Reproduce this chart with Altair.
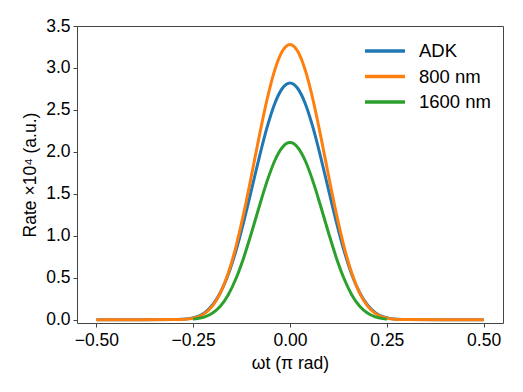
import altair as alt
import pandas as pd

# x positions (units of pi rad)
x_full = [-0.50, -0.40, -0.30, -0.28, -0.26, -0.24, -0.22, -0.20, -0.18, -0.16,
          -0.14, -0.12, -0.10, -0.08, -0.06, -0.04, -0.02, 0.00,
          0.02, 0.04, 0.06, 0.08, 0.10, 0.12, 0.14, 0.16, 0.18, 0.20,
          0.22, 0.24, 0.26, 0.28, 0.30, 0.40, 0.50]
adk = [0.0, 0.0, 0.0007, 0.0034, 0.012, 0.035, 0.084, 0.174, 0.320, 0.533,
       0.815, 1.157, 1.537, 1.923, 2.279, 2.568, 2.755, 2.820,
       2.755, 2.568, 2.279, 1.923, 1.537, 1.157, 0.815, 0.533, 0.320, 0.174,
       0.084, 0.035, 0.012, 0.0034, 0.0007, 0.0, 0.0]
nm800 = [0.0, 0.0, 0.0005, 0.0024, 0.009, 0.029, 0.075, 0.164, 0.316, 0.546,
         0.862, 1.257, 1.706, 2.172, 2.609, 2.965, 3.199, 3.280,
         3.199, 2.965, 2.609, 2.172, 1.706, 1.257, 0.862, 0.546, 0.316, 0.164,
         0.075, 0.029, 0.009, 0.0024, 0.0005, 0.0, 0.0]
x_green = [-0.25, -0.24, -0.22, -0.20, -0.18, -0.16, -0.14, -0.12, -0.10, -0.08,
           -0.06, -0.04, -0.02, 0.00, 0.02, 0.04, 0.06, 0.08, 0.10, 0.12,
           0.14, 0.16, 0.18, 0.20, 0.22, 0.24, 0.25]
nm1600 = [0.006, 0.012, 0.033, 0.078, 0.160, 0.292, 0.484, 0.733, 1.027, 1.340,
          1.639, 1.888, 2.052, 2.110, 2.052, 1.888, 1.639, 1.340, 1.027, 0.733,
          0.484, 0.292, 0.160, 0.078, 0.033, 0.012, 0.006]

series = ["ADK", "800 nm", "1600 nm"]
colors = ["#1f77b4", "#ff7f0e", "#2ca02c"]

df_adk = pd.DataFrame({"x": x_full, "y": adk, "s": "ADK"})
df_800 = pd.DataFrame({"x": x_full, "y": nm800, "s": "800 nm"})
df_1600 = pd.DataFrame({"x": x_green, "y": nm1600, "s": "1600 nm"})

FONT = "Liberation Sans"

xenc = alt.X("x:Q", scale=alt.Scale(domain=[-0.55, 0.55], nice=False, zero=False),
             axis=alt.Axis(values=[-0.5, -0.25, 0.0, 0.25, 0.5], format=".2f",
                           title="ωt (π rad)"))
yenc = alt.Y("y:Q", scale=alt.Scale(domain=[-0.04, 3.5], nice=False, zero=False),
             axis=alt.Axis(values=[0, 0.5, 1.0, 1.5, 2.0, 2.5, 3.0, 3.5], format=".1f",
                           title="Rate ×10⁴ (a.u.)"))
cenc = alt.Color("s:N", scale=alt.Scale(domain=series, range=colors),
                 legend=alt.Legend(title=None, orient="none", legendX=286, legendY=15,
                                   symbolType="stroke", symbolSize=1600,
                                   symbolStrokeWidth=3.5, labelFontSize=18.5,
                                   labelFont=FONT, labelOffset=12, rowPadding=5.5,
                                   clipHeight=20, labelColor="black"))

def line(df):
    return alt.Chart(df).mark_line(strokeWidth=3, interpolate="monotone").encode(
        x=xenc, y=yenc, color=cenc)

chart = alt.layer(line(df_adk), line(df_800), line(df_1600)).properties(
    width=426, height=297,
    autosize=alt.AutoSizeParams(type="none"),
    padding={"left": 69, "top": 18, "right": 12, "bottom": 60},
).configure_view(
    stroke="#444", strokeWidth=1
).configure_axis(
    domain=False, grid=False, tickColor="#444", tickSize=4,
    labelFont=FONT, labelFontSize=17.5, labelColor="black", labelPadding=3,
    titleFont=FONT, titleFontSize=17.5, titleFontWeight="normal", titleColor="black",
).configure_axisX(titlePadding=6, labelPadding=4).configure_axisY(titlePadding=6)

chart.save("out.html", embed_options={"renderer": "svg", "actions": False})
